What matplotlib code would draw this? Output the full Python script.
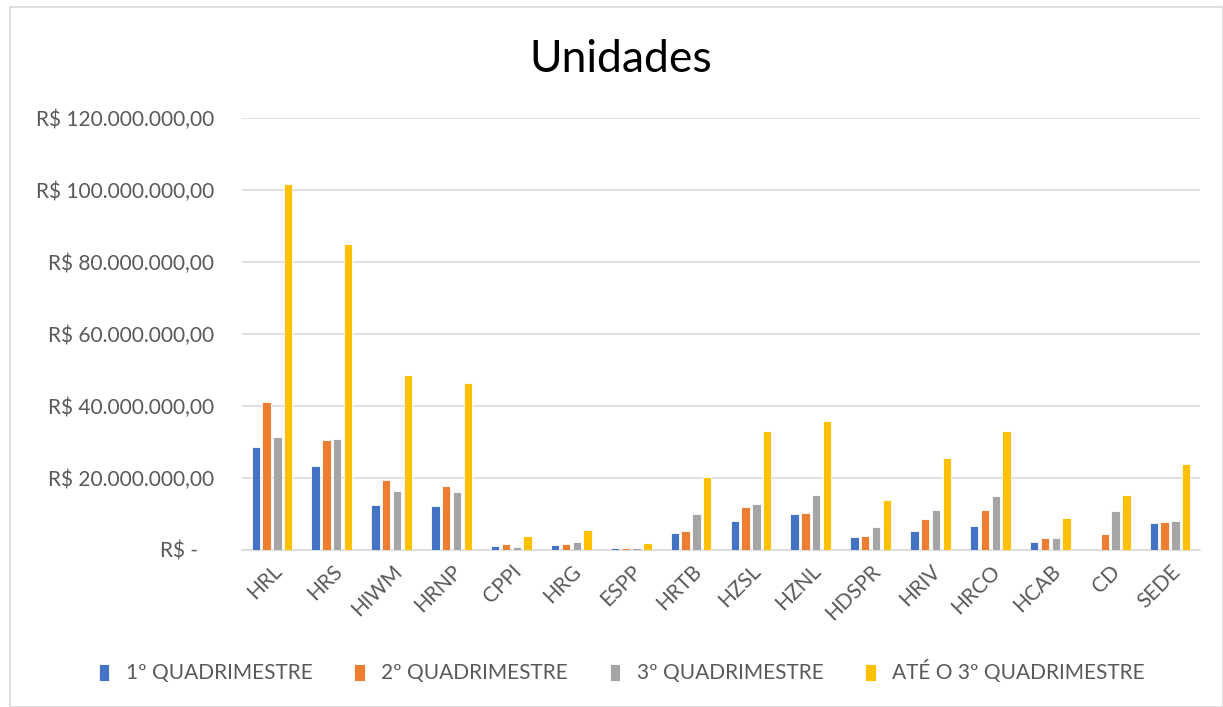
import matplotlib.pyplot as plt
import matplotlib.ticker as mticker
from matplotlib.patches import Rectangle
import numpy as np

plt.rcParams['font.family'] = ['Lato', 'DejaVu Sans']

unidades = ['HRL', 'HRS', 'HIWM', 'HRNP', 'CPPI', 'HRG', 'ESPP', 'HRTB',
            'HZSL', 'HZNL', 'HDSPR', 'HRIV', 'HRCO', 'HCAB', 'CD', 'SEDE']
# valores em milhoes de R$
quad1 = [28.6, 23.3, 12.6, 12.2, 1.0, 1.3, 0.5, 4.8, 8.0, 9.9, 3.5, 5.2, 6.8, 2.2, 0.0, 7.4]
quad2 = [41.1, 30.6, 19.4, 17.7, 1.8, 1.8, 0.5, 5.4, 11.9, 10.4, 3.9, 8.7, 11.1, 3.2, 4.4, 7.9]
quad3 = [31.5, 30.7, 16.3, 16.1, 0.7, 2.2, 0.5, 9.9, 12.9, 15.2, 6.3, 11.1, 14.9, 3.2, 10.9, 8.0]
ate_quad3 = [101.7, 85.1, 48.6, 46.4, 3.8, 5.6, 1.9, 20.4, 33.1, 35.8, 13.9, 25.5, 33.0, 8.8, 15.4, 23.8]

series = [quad1, quad2, quad3, ate_quad3]
nomes = ['1º QUADRIMESTRE', '2º QUADRIMESTRE', '3º QUADRIMESTRE', 'ATÉ O 3º QUADRIMESTRE']
cores = ['#4472C4', '#ED7D31', '#A5A5A5', '#FFC000']

fig = plt.figure(figsize=(12.23, 7.07), dpi=100)
ax = fig.add_axes([242 / 1223, 1 - 550 / 707, 958 / 1223, 432 / 707])

x = np.arange(len(unidades))
largura = 0.14
passo = 0.18
for i, (vals, nome, cor) in enumerate(zip(series, nomes, cores)):
    ax.bar(x + (i - 1.5) * passo, np.array(vals) * 1e6, largura, color=cor,
           edgecolor='white', linewidth=0.6, label=nome, zorder=3)

ax.set_xlim(-0.5, len(unidades) - 0.5)
ax.set_ylim(0, 120e6)
ax.set_yticks(np.arange(0, 121e6, 20e6))


def fmt_real(v, pos):
    if v == 0:
        return 'R$ -   '
    return 'R$ ' + f'{v:,.2f}'.replace(',', 'X').replace('.', ',').replace('X', '.')


ax.yaxis.set_major_formatter(mticker.FuncFormatter(fmt_real))
ax.grid(axis='y', color='#d9d9d9', linewidth=1.2, zorder=0)
for s in ['top', 'right', 'left']:
    ax.spines[s].set_visible(False)
ax.spines['bottom'].set_color('#d9d9d9')
ax.spines['bottom'].set_linewidth(1.2)
ax.tick_params(axis='y', length=0, labelsize=15, colors='#595959', pad=20)
ax.tick_params(axis='x', length=0, labelsize=15, colors='#595959', pad=8)
ax.set_xticks(x)
ax.set_xticklabels(unidades, rotation=45, ha='right', rotation_mode='anchor')

fig.text(621 / 1223, 1 - 60 / 707, 'Unidades', ha='center', va='center', fontsize=32, color='#000000')

fig.legend(loc='center', bbox_to_anchor=(622 / 1223, 1 - 672 / 707), ncol=4, frameon=False,
           fontsize=15, handlelength=0.5, handleheight=0.9, columnspacing=2.0,
           handletextpad=0.8, labelcolor='#595959')

fig.patches.append(Rectangle((10 / 1223, 0), 1 - 10 / 1223, 1 - 7 / 707, transform=fig.transFigure,
                             fill=False, edgecolor='#d9d9d9', linewidth=1.2))

fig.savefig('out.png', dpi=100)
